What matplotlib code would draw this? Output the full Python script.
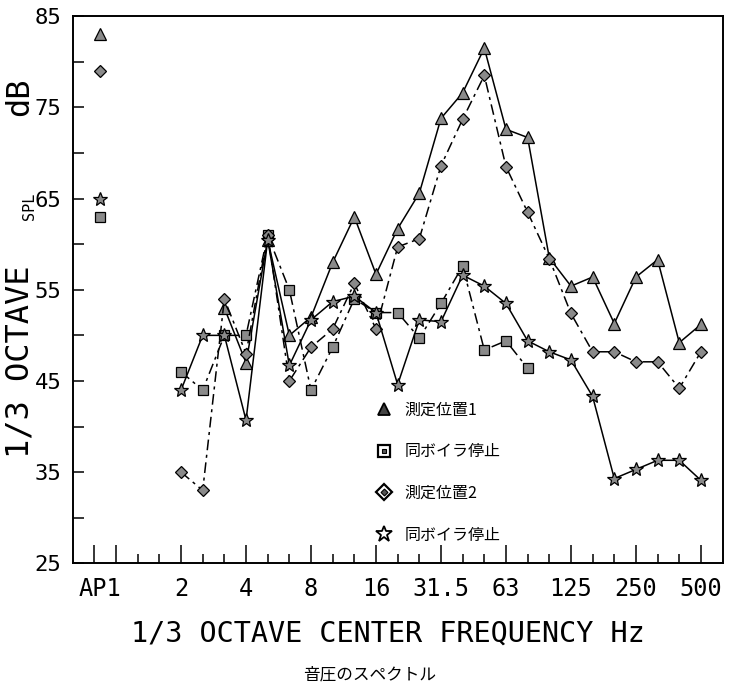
import numpy as np
import matplotlib
matplotlib.use("Agg")
import matplotlib.pyplot as plt
from matplotlib.lines import Line2D
from matplotlib.legend_handler import HandlerTuple

nan = np.nan
# 1/3 octave bands (index 0 = 2 Hz ... 24 = 500 Hz)
bands = ["2", "2.5", "3.15", "4", "5", "6.3", "8", "10", "12.5", "16", "20", "25",
         "31.5", "40", "50", "63", "80", "100", "125", "160", "200", "250", "315", "400", "500"]
tick_labels = ["AP1", "2", "4", "8", "16", "31.5", "63", "125", "250", "500"]

pos1 = [nan, nan, 53, 47, 60.5, 50, 52, 58, 63, 56.7, 61.7, 65.6, 73.8, 76.6, 81.5,
        72.6, 71.7, 58.5, 55.4, 56.4, 51.3, 56.4, 58.3, 49.2, 51.2]
pos1_stop = [46, 44, 50, 50, 61, 55, 44, 48.7, 54, 52.5, 52.5, 49.7, 53.5, 57.6, 48.4,
             49.4, 46.4, nan, nan, nan, nan, nan, nan, nan, nan]
pos2 = [35, 33, 54, 48, 61, 45, 48.7, 50.7, 55.7, 50.7, 59.7, 60.6, 68.6, 73.7, 78.5,
        68.5, 63.5, 58.4, 52.4, 48.2, 48.2, 47.1, 47.1, 44.2, 48.2]
pos2_stop = [44, 50, 50, 40.7, 60.5, 46.7, 51.7, 53.7, 54.3, 52.5, 44.6, 51.7, 51.5, 56.6,
             55.4, 53.5, 49.4, 48.2, 47.3, 43.3, 34.3, 35.3, 36.3, 36.3, 34.1]
# AP1 (overall) values
ap1 = {"pos1": 83, "pos1_stop": 63, "pos2": 79, "pos2_stop": 65}

legend_names = ["測定位置1", "同ボイラ停止", "測定位置2", "同ボイラ停止"]

fig = plt.figure(figsize=(7.31, 6.87), dpi=100)
ax = fig.add_axes([0.0995, 0.18, 0.889, 0.7964])

x = np.arange(len(bands))
ap1_x = -3.75
mono = "DejaVu Sans Mono"
gray = "#8a8a8a"
dashdot = (0, (7, 3, 2, 3))

styles = [
    ("pos1", pos1, "^", "-", 8),
    ("pos1_stop", pos1_stop, "s", dashdot, 6.5),
    ("pos2", pos2, "D", dashdot, 6.5),
    ("pos2_stop", pos2_stop, "*", "-", 10),
]
for key, vals, mk, ls, ms in styles:
    ax.plot(x, vals, color="black", lw=1.1, linestyle=ls, marker=mk, ms=ms,
            mfc=gray, mec="black", mew=0.9)
    ax.plot([ap1_x], [ap1[key]], linestyle="none", marker=mk, ms=ms,
            mfc=gray, mec="black", mew=0.9)

# legend handles (drawn like the printed key)
def mk_handle(m, ms, fc, mew=1.3):
    return Line2D([], [], linestyle="none", marker=m, ms=ms, mfc=fc, mec="black", mew=mew)

handles = [
    mk_handle("^", 9, "#444444"),
    (mk_handle("s", 8, "white", 1.6), mk_handle("s", 3, "#555555", 0.8)),
    (mk_handle("D", 8.5, "white", 1.6), mk_handle("D", 3.5, "#555555", 0.8)),
    mk_handle("*", 12, "white", 1.3),
]
leg = ax.legend(handles, legend_names, loc="upper left", bbox_to_anchor=(0.466, 0.296),
                frameon=False, handlelength=1.0, handletextpad=0.8, labelspacing=1.55,
                borderpad=0, borderaxespad=0,
                handler_map={tuple: HandlerTuple(ndivide=1, pad=0)},
                prop={"family": ["Noto Sans CJK JP", "DejaVu Sans"], "size": 11.5})

ax.set_xlim(-5, 25)
ax.set_ylim(25, 85)

major_x = [-4, -3] + list(range(0, 25, 3))
minor_x = [i for i in range(-2, 25) if i not in major_x]
ax.set_xticks(major_x)
ax.set_xticklabels([""] * len(major_x))
ax.set_xticks(minor_x, minor=True)
ax.tick_params(axis="x", which="major", direction="in", length=13, width=1.1, pad=2)
ax.tick_params(axis="x", which="minor", direction="in", length=6.5, width=1.1)
label_x = [ap1_x] + list(range(0, 25, 3))
for lx, lab in zip(label_x, tick_labels):
    ax.text(lx, -0.025, lab, transform=ax.get_xaxis_transform(), ha="center", va="top",
            family=mono, fontsize=17)

ax.set_yticks(np.arange(25, 86, 10))
ax.set_yticks(np.arange(30, 85, 10), minor=True)
ax.tick_params(axis="y", which="both", direction="in", length=8, width=1.1, pad=8,
               labelsize=16)
for lab in ax.get_yticklabels():
    lab.set_family(mono)

for sp in ["left", "bottom", "right", "top"]:
    ax.spines[sp].set_linewidth(1.4)

fig.text(0.531, 0.078, "1/3 OCTAVE CENTER FREQUENCY Hz", ha="center", va="center",
         family=mono, fontsize=20.5)
fig.text(0.027, 0.473, "1/3 OCTAVE", rotation=90, ha="center", va="center",
         family=mono, fontsize=23)
fig.text(0.040, 0.699, "SPL", rotation=90, ha="center", va="center",
         family=mono, fontsize=11)
fig.text(0.027, 0.859, "dB", rotation=90, ha="center", va="center",
         family=mono, fontsize=23)
fig.text(0.506, 0.018, "音圧のスペクトル", ha="center", va="center",
         family=["Noto Sans CJK JP", "DejaVu Sans"], fontsize=12)

fig.savefig("out.png", dpi=100)
